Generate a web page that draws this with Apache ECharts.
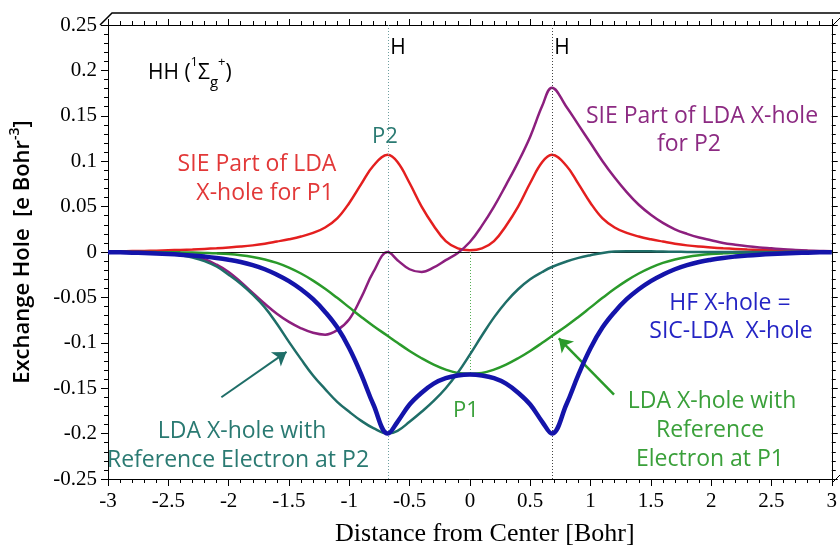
<!DOCTYPE html>
<html>
<head>
<meta charset="utf-8">
<script src="https://cdn.jsdelivr.net/npm/echarts@6/dist/echarts.min.js"></script>
<style>
html,body{margin:0;padding:0;background:#fff;}
#chart{width:840px;height:552px;}
</style>
</head>
<body>
<div id="chart"></div>
<script>
// Distance from center [Bohr]
const xs = [-3.0,-2.9,-2.8,-2.7,-2.6,-2.5,-2.4,-2.3,-2.2,-2.1,-2.0,-1.9,-1.8,-1.7,-1.6,-1.5,-1.4,-1.3,-1.2,-1.1,-1.0,-0.9,-0.8,
  -0.68,
  -0.6,-0.5,-0.4,-0.3,-0.2,-0.1,0,0.1,0.2,0.3,0.4,0.5,0.6,
  0.68,
  0.8,0.9,1.0,1.1,1.2,1.3,1.4,1.5,1.6,1.7,1.8,1.9,2.0,2.1,2.2,2.3,2.4,2.5,2.6,2.7,2.8,2.9,3.0];
// SIE part of LDA X-hole for P1 (red)
const sieP1 = [0.0005,0.0007,0.001,0.0012,0.0015,0.0019,0.0023,0.0028,0.0034,0.0041,0.005,0.006,0.0073,0.0091,0.0115,0.014,0.017,0.021,0.027,0.037,0.054,0.075,0.095,
  0.107,
  0.099,0.076,0.05,0.029,0.012,0.004,0.002,0.004,0.012,0.029,0.05,0.076,0.099,
  0.107,
  0.095,0.075,0.054,0.037,0.027,0.021,0.017,0.014,0.0115,0.0091,0.0073,0.006,0.005,0.0041,0.0034,0.0028,0.0023,0.0019,0.0015,0.0012,0.001,0.0007,0.0005];
// SIE part of LDA X-hole for P2 (purple)
const sieP2 = [0,0,-0.0003,-0.0006,-0.001,-0.0018,-0.003,-0.005,-0.008,-0.014,-0.022,-0.033,-0.045,-0.057,-0.068,-0.077,-0.084,-0.089,-0.091,-0.086,-0.074,-0.05,-0.022,
  0.0,
  -0.009,-0.019,-0.022,-0.017,-0.009,-0.001,0.011,0.029,0.05,0.074,0.099,0.127,0.161,
  0.181,
  0.16,0.14,0.12,0.1,0.082,0.066,0.052,0.041,0.032,0.025,0.02,0.016,0.013,0.01,0.008,0.0063,0.005,0.004,0.003,0.0023,0.0017,0.0012,0.0008];
// LDA X-hole with reference electron at P2 (teal)
const ldaP2 = [0,0,-0.0002,-0.0005,-0.001,-0.002,-0.0035,-0.006,-0.01,-0.016,-0.025,-0.035,-0.047,-0.061,-0.079,-0.099,-0.118,-0.136,-0.151,-0.165,-0.176,-0.186,-0.194,
  -0.2,
  -0.197,-0.187,-0.176,-0.164,-0.15,-0.133,-0.113,-0.092,-0.072,-0.055,-0.041,-0.03,-0.022,
  -0.0165,
  -0.0105,-0.0065,-0.0035,-0.001,0.0005,0.0009,0.0009,0.0007,0.0005,0.0003,0.0001,0,0,0,0,0,0,0,0,0,0,0,0];
// LDA X-hole with reference electron at P1 (green)
const ldaP1 = [0,0,0,0,-0.0001,-0.0002,-0.0004,-0.0006,-0.001,-0.0015,-0.0023,-0.0036,-0.0055,-0.0082,-0.012,-0.0172,-0.0237,-0.0315,-0.0405,-0.0505,-0.061,-0.0715,-0.0815,
  -0.0925,
  -0.1,-0.109,-0.117,-0.124,-0.1295,-0.1332,-0.134,-0.1332,-0.1295,-0.124,-0.117,-0.109,-0.1,
  -0.0925,
  -0.0815,-0.0715,-0.061,-0.0505,-0.0405,-0.0315,-0.0237,-0.0172,-0.012,-0.0082,-0.0055,-0.0036,-0.0023,-0.0015,-0.001,-0.0006,-0.0004,-0.0002,-0.0001,0,0,0,0];
// HF X-hole = SIC-LDA X-hole (blue)
const hfHole = [-0.0002,-0.0004,-0.0007,-0.0011,-0.0016,-0.0022,-0.0029,-0.0038,-0.005,-0.0065,-0.0085,-0.011,-0.0145,-0.019,-0.025,-0.032,-0.041,-0.052,-0.066,-0.083,-0.106,-0.135,-0.168,
  -0.2,
  -0.187,-0.168,-0.155,-0.145,-0.139,-0.136,-0.135,-0.136,-0.139,-0.145,-0.155,-0.168,-0.187,
  -0.2,
  -0.168,-0.135,-0.106,-0.083,-0.066,-0.052,-0.041,-0.032,-0.025,-0.019,-0.0145,-0.011,-0.0085,-0.0065,-0.005,-0.0038,-0.0029,-0.0022,-0.0016,-0.0011,-0.0007,-0.0004,-0.0002];
// Nuclear positions (H atoms) and P1 position
const hPositions = [-0.68, 0.68];
const p1Position = 0;
const p1Depth = -0.134;
// Arrow annotation endpoints [x, y]
const arrowP2 = [[-2.06,-0.16],[-1.52,-0.11]];
const arrowP1 = [[1.195,-0.157],[0.737,-0.095]];

const pairs = arr => xs.map((x,i)=>[x, arr[i]]);

const SANS = '"Open Sans", "DejaVu Sans", sans-serif';
const SERIF = '"Liberation Serif", "Times New Roman", serif';

const chart = echarts.init(document.getElementById('chart'), null, {renderer:'canvas'});

function fmt(v){ return String(+(+v).toFixed(2)); }

const baseX = {
  type:'value', min:-3, max:3, interval:0.5,
  splitLine:{show:false},
  axisLine:{show:true, onZero:false, lineStyle:{color:'#000', width:1}},
  minorTick:{show:true, splitNumber:5, length:4, lineStyle:{color:'#000'}},
  minorSplitLine:{show:false}
};
const baseY = {
  type:'value', min:-0.25, max:0.25, interval:0.05,
  splitLine:{show:false},
  axisLine:{show:true, onZero:false, lineStyle:{color:'#000', width:1}},
  minorTick:{show:true, splitNumber:5, length:4, lineStyle:{color:'#000'}},
  minorSplitLine:{show:false}
};

const lineSeries = (name, arr, color, width, z) => ({
  name, type:'line', data:pairs(arr), smooth:0.4, showSymbol:false, symbol:'none',
  lineStyle:{color, width}, z, silent:true
});

const arrowSeries = (name, pts, color, width) => ({
  name, type:'line', data:[], silent:true, z:8,
  markLine:{
    silent:true, animation:false, symbol:['none','arrow'], symbolSize:13,
    label:{show:false},
    lineStyle:{color, width, type:'solid'},
    itemStyle:{color},
    data:[[{coord:pts[0]},{coord:pts[1]}]]
  }
});

const txt = (text, x, y, color, size, extra) => Object.assign({
  type:'text', x, y, silent:true,
  style:{text, fill:color, font: size+'px '+SANS, align:'center', verticalAlign:'middle', textAlign:'center', textVerticalAlign:'middle'}
}, extra||{});

const option = {
  animation:false,
  backgroundColor:'#fff',
  grid:{left:100, right:7, top:25, bottom:70, containLabel:false},
  xAxis:[
    Object.assign({}, baseX, {
      position:'bottom',
      axisTick:{show:true, inside:false, length:7, lineStyle:{color:'#000'}},
      axisLabel:{show:true, color:'#000', fontFamily:SERIF, fontSize:21, margin:12, formatter:fmt},
      name:'Distance from Center [Bohr]', nameLocation:'middle', nameGap:42,
      nameTextStyle:{color:'#000', fontFamily:SERIF, fontSize:26, padding:[0,0,0,30]}
    }),
    Object.assign({}, baseX, {
      position:'top',
      axisTick:{show:true, inside:false, length:6, lineStyle:{color:'#000'}},
      axisLabel:{show:false}
    })
  ],
  yAxis:[
    Object.assign({}, baseY, {
      position:'left',
      axisTick:{show:true, inside:false, length:7, lineStyle:{color:'#000'}},
      axisLabel:{show:true, color:'#000', fontFamily:SERIF, fontSize:21, margin:11, formatter:fmt},
      name:'{a|Exchange Hole  [e Bohr}{s|-3}{a|]}', nameLocation:'middle', nameGap:70, nameRotate:90,
      nameTextStyle:{
        rich:{
          a:{color:'#000', fontFamily:SANS, fontSize:22, fontWeight:600, lineHeight:30, verticalAlign:'middle'},
          s:{color:'#000', fontFamily:SANS, fontSize:14, fontWeight:600, lineHeight:18, verticalAlign:'top'}
        }
      }
    }),
    Object.assign({}, baseY, {
      position:'right',
      axisTick:{show:true, inside:false, length:6, lineStyle:{color:'#000'}},
      axisLabel:{show:false}
    })
  ],
  series:[
    Object.assign(lineSeries('SIE Part of LDA X-hole for P1', sieP1, '#e41f1f', 2.5, 3), {
      markLine:{
        silent:true, symbol:'none', animation:false, label:{show:false},
        data:[
          {yAxis:0, lineStyle:{color:'#111', width:1, type:'solid'}},
          {xAxis:hPositions[0], lineStyle:{color:'#6f9fa0', width:1, type:[1,2]}},
          {xAxis:hPositions[1], lineStyle:{color:'#444', width:1, type:[1,2]}},
          [{coord:[p1Position,0]},{coord:[p1Position,p1Depth], lineStyle:{color:'#55b055', width:1, type:[1,2]}}]
        ]
      }
    }),
    lineSeries('SIE Part of LDA X-hole for P2', sieP2, '#8c1f7e', 2.5, 4),
    lineSeries('LDA X-hole with Reference Electron at P1', ldaP1, '#2a9a2a', 2.5, 5),
    lineSeries('LDA X-hole with Reference Electron at P2', ldaP2, '#1f6e68', 2.5, 6),
    lineSeries('HF X-hole = SIC-LDA X-hole', hfHole, '#1414aa', 4.5, 7),
    arrowSeries('arrow P2', arrowP2, '#1f6e68', 2),
    arrowSeries('arrow P1', arrowP1, '#2a9a2a', 2.5)
  ],
  graphic:[
    {type:'polyline', silent:true, shape:{points:[[100,25],[112,13],[840,13]]}, style:{stroke:'#000', lineWidth:1.5, fill:null}},
    {type:'line', silent:true, shape:{x1:833,y1:25,x2:840,y2:18}, style:{stroke:'#000', lineWidth:1}},
    {type:'line', silent:true, shape:{x1:833,y1:482,x2:840,y2:475}, style:{stroke:'#000', lineWidth:1}},
    txt('H', 398, 48, '#000', 21),
    txt('H', 562, 48, '#000', 21),
    {type:'text', x:148, y:73, silent:true, style:{
      text:'{n|HH (}{p|1}{n|Σ}{b|g}{p|+}{n|)}',
      align:'left', verticalAlign:'middle', textAlign:'left', textVerticalAlign:'middle',
      rich:{
        n:{fill:'#000', fontFamily:SANS, fontSize:21, lineHeight:34, verticalAlign:'middle'},
        p:{fill:'#000', fontFamily:SANS, fontSize:13, lineHeight:22, verticalAlign:'top'},
        b:{fill:'#000', fontFamily:SANS, fontSize:15, lineHeight:18, verticalAlign:'bottom'}
      }
    }},
    txt('P2', 385, 137, '#2a7a72', 22),
    txt('SIE Part of LDA', 257, 164, '#e23838', 23),
    txt('X-hole for P1', 265, 193, '#e23838', 23),
    txt('SIE Part of LDA X-hole', 702, 116, '#8c2a82', 23),
    txt('for P2', 689, 144, '#8c2a82', 23),
    txt('HF X-hole =', 730, 303, '#2424c4', 23),
    txt('SIC-LDA  X-hole', 731, 331, '#2424c4', 23),
    txt('P1', 466, 411, '#3aa03a', 22),
    txt('LDA X-hole with', 712, 401, '#3aa03a', 23),
    txt('Reference', 710, 430, '#3aa03a', 23),
    txt('Electron at P1', 710, 459, '#3aa03a', 23),
    txt('LDA X-hole with', 242, 431, '#2a7a72', 23),
    txt('Reference Electron at P2', 238, 460, '#2a7a72', 23)
  ]
};
chart.setOption(option);
</script>
</body>
</html>
